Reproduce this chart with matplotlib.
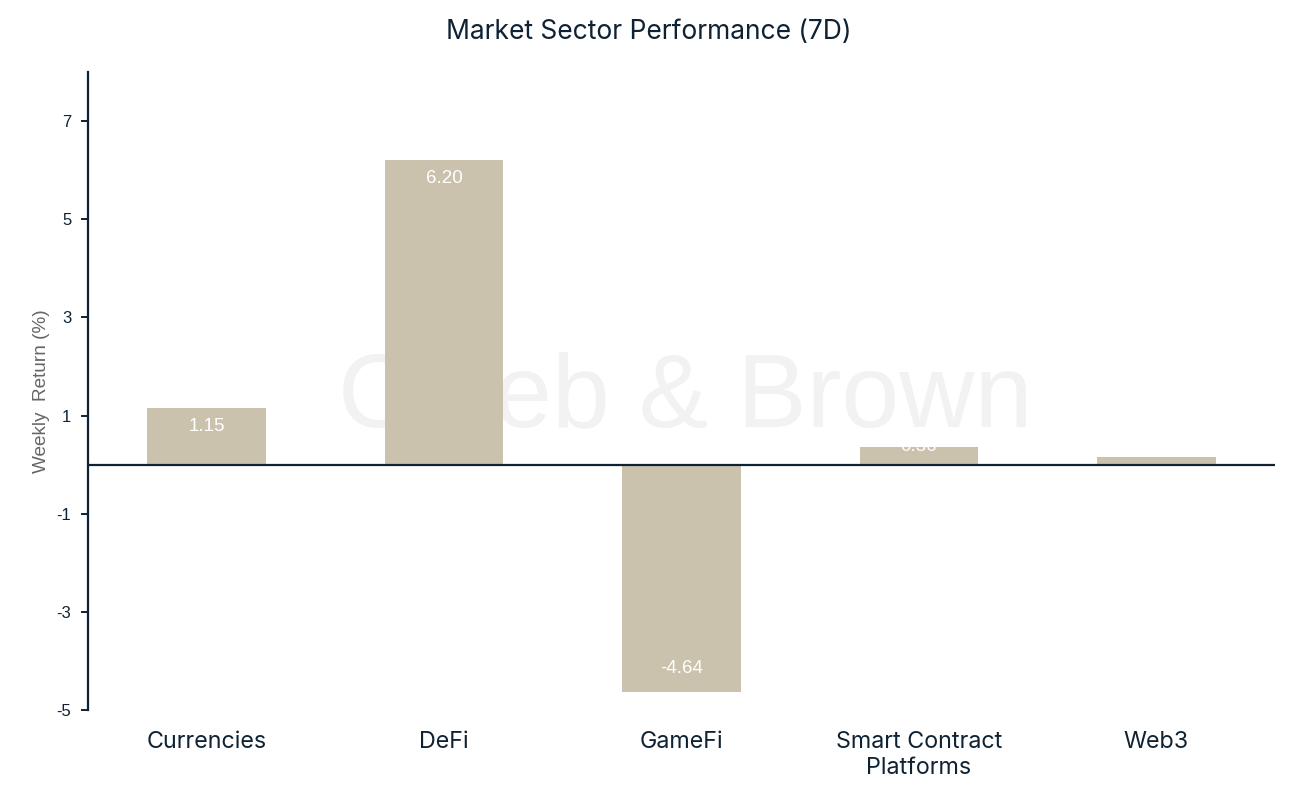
import matplotlib
matplotlib.use("Agg")
import matplotlib.pyplot as plt
import numpy as np

categories = ["Currencies", "DeFi", "GameFi", "Smart Contract\nPlatforms", "Web3"]
values = [1.15, 6.20, -4.64, 0.36, 0.15]
yticks = [7, 5, 3, 1, -1, -3, -5]

navy = "#0f2233"
bar_color = "#cbc2ad"

fig = plt.figure(figsize=(12.98, 7.92), dpi=100)
ax = fig.add_axes([88/1298, 1-710/792, (1275-88)/1298, (710-72)/792])

x = np.arange(len(categories))
ax.bar(x, values, width=0.5, color=bar_color, zorder=2)

ax.set_xlim(-0.5, 4.5)
ax.set_ylim(-5, 8)

# watermark
ax.text(0.503, 0.487, "Caleb & Brown", transform=ax.transAxes, ha="center", va="center",
        fontsize=75, color="#f2f2f2", family="Liberation Sans", zorder=1)

for xi, v in zip(x, values):
    if v >= 0.8:
        y = v - 0.37
    elif v >= 0.3:
        y = v
    elif v >= 0:
        continue  # label not visible in the reference for very short bars
    else:
        y = v + 0.48
    ax.text(xi, y, f"{v:.2f}", ha="center", va="center", color="white",
            fontsize=13.5, family="Liberation Sans", zorder=3)

ax.axhline(0, color=navy, lw=1.6, zorder=4)

for s in ["top", "right", "bottom"]:
    ax.spines[s].set_visible(False)
ax.spines["left"].set_color(navy)
ax.spines["left"].set_linewidth(1.6)

ax.set_yticks(yticks)
ax.set_yticklabels([str(t) for t in yticks], family="Liberation Sans", fontsize=12, color=navy)
ax.tick_params(axis="y", length=5, width=1.4, color=navy, pad=7)
ax.set_xticks(x)
ax.set_xticklabels(categories, family="Inter", fontsize=16.8, color=navy, linespacing=1.25)
ax.tick_params(axis="x", length=0, pad=15)

ax.set_ylabel("Weekly  Return (%)", family="Liberation Sans", fontsize=13.7, color="#666666")
ax.yaxis.set_label_coords(-0.032, 0.5)

fig.text(649/1298, 1-32/792, "Market Sector Performance (7D)", ha="center", va="center",
         family="Inter", fontsize=19, color=navy)

fig.savefig("out.png", dpi=100)
